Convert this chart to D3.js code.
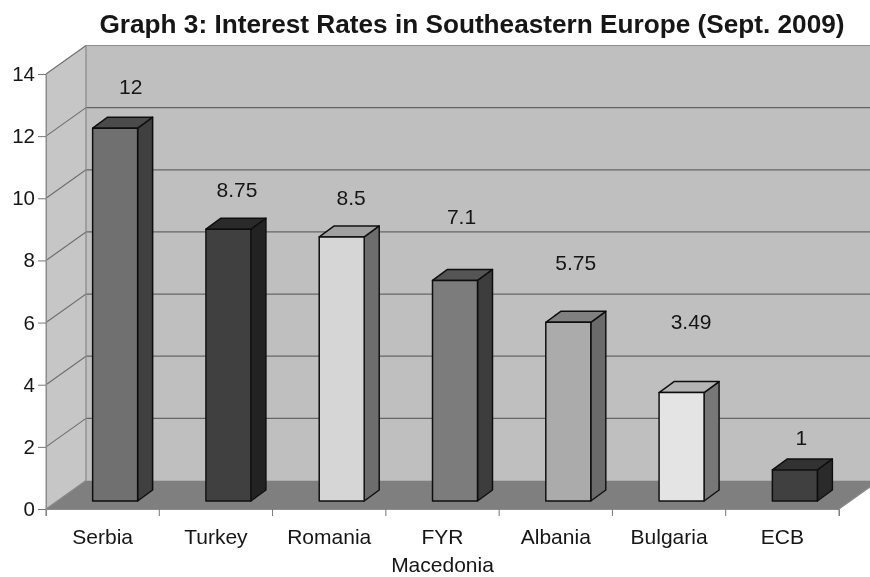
<!DOCTYPE html>
<html><head><meta charset="utf-8">
<script src="https://cdn.jsdelivr.net/npm/d3@7/dist/d3.min.js"></script>
<style>html,body{margin:0;padding:0;background:#fff}svg{display:block}text{font-family:"Liberation Sans",Arial,sans-serif;fill:#151515}</style>
</head><body><div id="c"></div>
<script>
const titleText = "Graph 3: Interest Rates in Southeastern Europe (Sept. 2009)";
const categories = ["Serbia","Turkey","Romania","FYR\nMacedonia","Albania","Bulgaria","ECB"];
const values = [12,8.75,8.5,7.1,5.75,3.49,1];
const valueLabels = ["12","8.75","8.5","7.1","5.75","3.49","1"];
const labelLevels = [13.61,10.27,10.04,9.4,7.92,6.02,2.29];
const labelNudges = [28,21,22,19,20,22,19];
const frontShades = ["#6f6f6f","#414141","#d6d6d6","#7b7b7b","#ababab","#e4e4e4","#3f3f3f"];
const sideShades  = ["#3f3f3f","#232323","#6d6d6d","#3d3d3d","#6b6b6b","#777777","#2b2b2b"];
const topShades   = ["#4b4b4b","#2b2b2b","#a0a0a0","#555555","#808080","#b4b4b4","#303030"];
const yTicks = [0,2,4,6,8,10,12,14];

const W=870,H=577;
const svg=d3.select("#c").append("svg").attr("width",W).attr("height",H);
const defs=svg.append("defs");
defs.append("filter").attr("id","soft").append("feGaussianBlur").attr("stdDeviation",0.45);
const g=svg.append("g").attr("filter","url(#soft)");

const x=d3.scaleBand().domain(categories).range([46,839]).paddingInner(0).paddingOuter(0);
const y=d3.scaleLinear().domain([0,14]).range([509,74]);
const dX=40,dY=-28.5;        // wall depth
const bX=15,bY=-11;          // bar depth
const baseShift=8;           // bars stand slightly in from the front edge
const barW=45, barDrift=12.5;
const poly=(pts,fill,stroke,sw)=>g.append("polygon").attr("points",pts.map(p=>p.join(",")).join(" ")).attr("fill",fill).attr("stroke",stroke||"none").attr("stroke-width",sw||0).attr("stroke-linejoin","round");

const xL=x.range()[0], xR=x.range()[1], y0=y(0), y14=y(14);
// back wall
poly([[xL+dX,y14+dY],[W+60,y14+dY],[W+60,y0+dY],[xL+dX,y0+dY]],"#bfbfbf");
// side wall
poly([[xL,y14],[xL+dX,y14+dY],[xL+dX,y0+dY],[xL,y0]],"#c6c6c6");
// floor
poly([[xL,y0],[xL+dX,y0+dY],[xR+dX,y0+dY],[xR,y0]],"#7f7f7f");

// gridlines
yTicks.forEach(t=>{
  if(t>0) g.append("line").attr("x1",xL+dX).attr("x2",W).attr("y1",y(t)+dY).attr("y2",y(t)+dY).attr("stroke",t===14?"#8c8c8c":"#666").attr("stroke-width",1.2);
  g.append("line").attr("x1",xL).attr("x2",xL+dX).attr("y1",y(t)).attr("y2",y(t)+dY).attr("stroke",t===0?"#8a8a8a":"#6e6e6e").attr("stroke-width",1.1);
});
g.append("line").attr("x1",xL+dX).attr("x2",xL+dX).attr("y1",y14+dY).attr("y2",y0+dY).attr("stroke","#888").attr("stroke-width",1.2);
g.append("line").attr("x1",xL).attr("x2",xL).attr("y1",y14).attr("y2",y0).attr("stroke","#8c8c8c").attr("stroke-width",1);
g.append("line").attr("x1",xR).attr("x2",xR+dX).attr("y1",y0).attr("y2",y0+dY).attr("stroke","#8a8a8a").attr("stroke-width",1.2);

// bars
categories.forEach((c,i)=>{
  const v=values[i];
  const left=x(c)+(x.bandwidth()-barW)/2+barDrift, right=left+barW;
  const bot=y0-baseShift, top=y(v)-baseShift;
  poly([[right,bot],[right+bX,bot+bY],[right+bX,top+bY],[right,top]],sideShades[i],"#111",1.5);
  poly([[left,top],[left+bX,top+bY],[right+bX,top+bY],[right,top]],topShades[i],"#111",1.5);
  poly([[left,top],[right,top],[right,bot],[left,bot]],frontShades[i],"#111",1.5);
  g.append("text").attr("x",x(c)+x.bandwidth()/2+labelNudges[i]).attr("y",y(labelLevels[i])).attr("text-anchor","middle").attr("dominant-baseline","central").attr("font-size",21).text(valueLabels[i]);
});

// y axis
const yAxis=d3.axisLeft(y).tickValues(yTicks).tickSize(8).tickPadding(3).tickSizeOuter(0);
const ya=g.append("g").attr("transform",`translate(${xL},0)`).call(yAxis);
ya.select(".domain").attr("stroke","#8c8c8c");
ya.selectAll(".tick line").attr("stroke","#777");
ya.selectAll(".tick text").attr("font-size",20.5).attr("font-family",'"Liberation Sans",Arial,sans-serif');

// x axis
const xg=g.append("g").attr("transform",`translate(0,${y0})`).call(d3.axisBottom(x).tickValues([]).tickSizeOuter(7));
xg.select(".domain").attr("stroke","#8c8c8c");
d3.range(categories.length+1).forEach(i=>{
  const tx=i<categories.length?x(categories[i]):xR;
  g.append("line").attr("x1",tx).attr("x2",tx).attr("y1",y0).attr("y2",y0+7).attr("stroke","#777");
});
categories.forEach(c=>{
  c.split("\n").forEach((ln,k)=>{
    g.append("text").attr("x",x(c)+x.bandwidth()/2).attr("y",y0+27+k*28).attr("text-anchor","middle").attr("dominant-baseline","central").attr("font-size",21).text(ln);
  });
});
// title
g.append("text").attr("x",472).attr("y",23.5).attr("text-anchor","middle").attr("dominant-baseline","central").attr("font-size",26.2).attr("font-weight","bold").text(titleText);
</script></body></html>
